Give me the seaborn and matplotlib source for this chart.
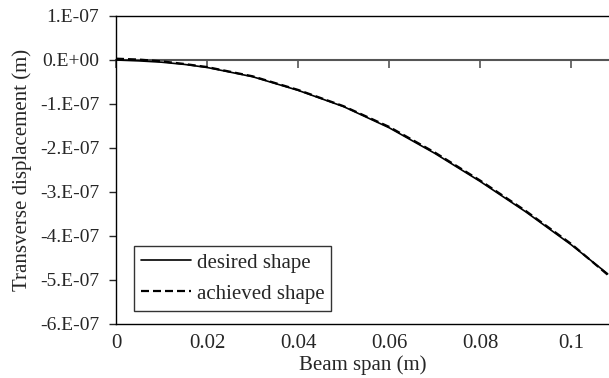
import numpy as np
import pandas as pd
import seaborn as sns
import matplotlib.pyplot as plt
from matplotlib.ticker import FuncFormatter

# valeurs (x en m, y en 1e-7 m)
span = [0.0, 0.005, 0.01, 0.015, 0.02, 0.03, 0.04, 0.05, 0.06, 0.07, 0.08, 0.09, 0.1, 0.108]
desired = [0.0, -0.02, -0.05, -0.10, -0.17, -0.38, -0.69, -1.06, -1.54, -2.12, -2.76, -3.45, -4.20, -4.86]
achieved = [0.03, 0.01, -0.03, -0.09, -0.16, -0.37, -0.68, -1.05, -1.52, -2.10, -2.74, -3.43, -4.18, -4.88]
x_ticks = [0, 0.02, 0.04, 0.06, 0.08, 0.1]
y_ticks = [1, 0, -1, -2, -3, -4, -5, -6]

df = pd.DataFrame({
    "span": span * 2,
    "disp": [v * 1e-7 for v in desired + achieved],
    "serie": ["desired shape"] * len(span) + ["achieved shape"] * len(span),
})

sns.set_style("white")
plt.rcParams['font.family'] = ['Liberation Serif', 'DejaVu Serif']
plt.rcParams['font.size'] = 15

fig = plt.figure(figsize=(6.09, 3.78), dpi=100)
ax = fig.add_axes([0.1905, 0.1429, 0.8095, 0.8148])

sns.lineplot(data=df[df.serie == "desired shape"], x="span", y="disp", color="black",
             lw=1.2, ax=ax, label="desired shape")
sns.lineplot(data=df[df.serie == "achieved shape"], x="span", y="disp", color="black",
             lw=1.6, ls=(0, (3.6, 1.8)), ax=ax, label="achieved shape")

ax.set_xlim(0, 0.1083)
ax.set_ylim(-6e-7, 1e-7)
ax.set_xticks(x_ticks)
ax.set_xticklabels([f"{t:g}" for t in x_ticks])
ax.set_yticks([v * 1e-7 for v in y_ticks])
ax.yaxis.set_major_formatter(FuncFormatter(lambda v, p: f"{v:.0E}".replace("E", ".E")))

for s in ["left", "bottom", "top"]:
    ax.spines[s].set_color("black")
    ax.spines[s].set_linewidth(1.0)
ax.spines["right"].set_visible(False)
ax.tick_params(axis="x", length=0, pad=7, labelsize=15)
ax.tick_params(axis="y", left=True, length=5, width=1, direction="out", pad=7, labelsize=14)

# ligne du zéro avec graduations (style Excel)
sec = ax.secondary_xaxis(6 / 7)
sec.set_alignment("bottom")
sec.set_xticks(x_ticks)
sec.tick_params(axis="x", direction="out", length=6, width=1.2, color="#555555",
                labelbottom=False, labeltop=False)
sec.spines["bottom"].set_color("#555555")
sec.spines["bottom"].set_linewidth(1.5)

ax.set_xlabel("Beam span (m)", labelpad=2, fontsize=15)
ax.set_ylabel("Transverse displacement (m)", labelpad=6, fontsize=15)

leg = ax.legend(loc="lower left", bbox_to_anchor=(0.0365, 0.042), borderaxespad=0,
                frameon=True, fancybox=False,
                handlelength=2.4, handletextpad=0.25, borderpad=0.35, labelspacing=0.55,
                fontsize=15)
leg.get_frame().set_edgecolor("black")
leg.get_frame().set_linewidth(1.0)

fig.savefig("out.png", dpi=100)
